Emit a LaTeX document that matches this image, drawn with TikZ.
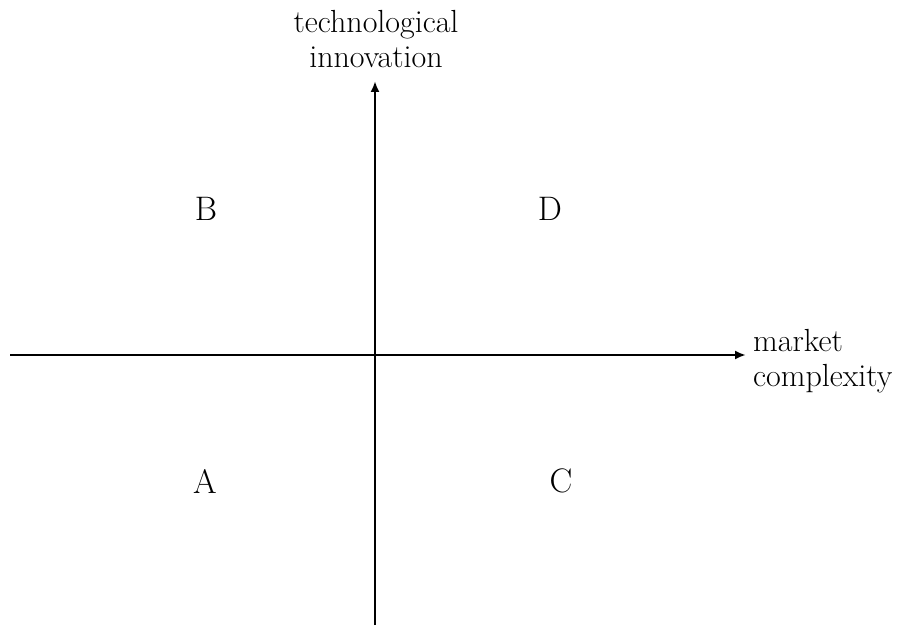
\documentclass[tikz,border=0pt]{standalone}
\usepackage{tikz}
\usetikzlibrary{arrows.meta,positioning}

\begin{document}
\begin{tikzpicture}[
  x=1pt, y=-1pt,
  font=\fontsize{32}{35}\selectfont,
  axis/.style={line width=2.8pt,-{Latex[length=11pt,width=9pt]}},
  quad/.style={font=\fontsize{34}{36}\selectfont,inner sep=0pt},
  lbl/.style={align=left,inner sep=0pt}]
  \useasboundingbox (0,0) rectangle (897,628);
  % axes
  \coordinate (xs) at (10,355);
  \coordinate (xe) at (746,355);
  \coordinate (ys) at (375,625);
  \coordinate (ye) at (375,81);
  \draw[axis] (xs) -- (xe);
  \draw[axis] (ys) -- (ye);
  % axis labels
  \node[lbl,align=center,anchor=south] (ylab) at (376,68) {technological\\innovation};
  \node[lbl,anchor=west] (xlab) at (753,361) {market\\complexity};
  % quadrants
  \node[quad] (qb) at (206,209) {B};
  \node[quad] (qd) at (550,209) {D};
  \node[quad] (qa) at (205,481) {A};
  \node[quad] (qc) at (561,481) {C};
\end{tikzpicture}
\end{document}
